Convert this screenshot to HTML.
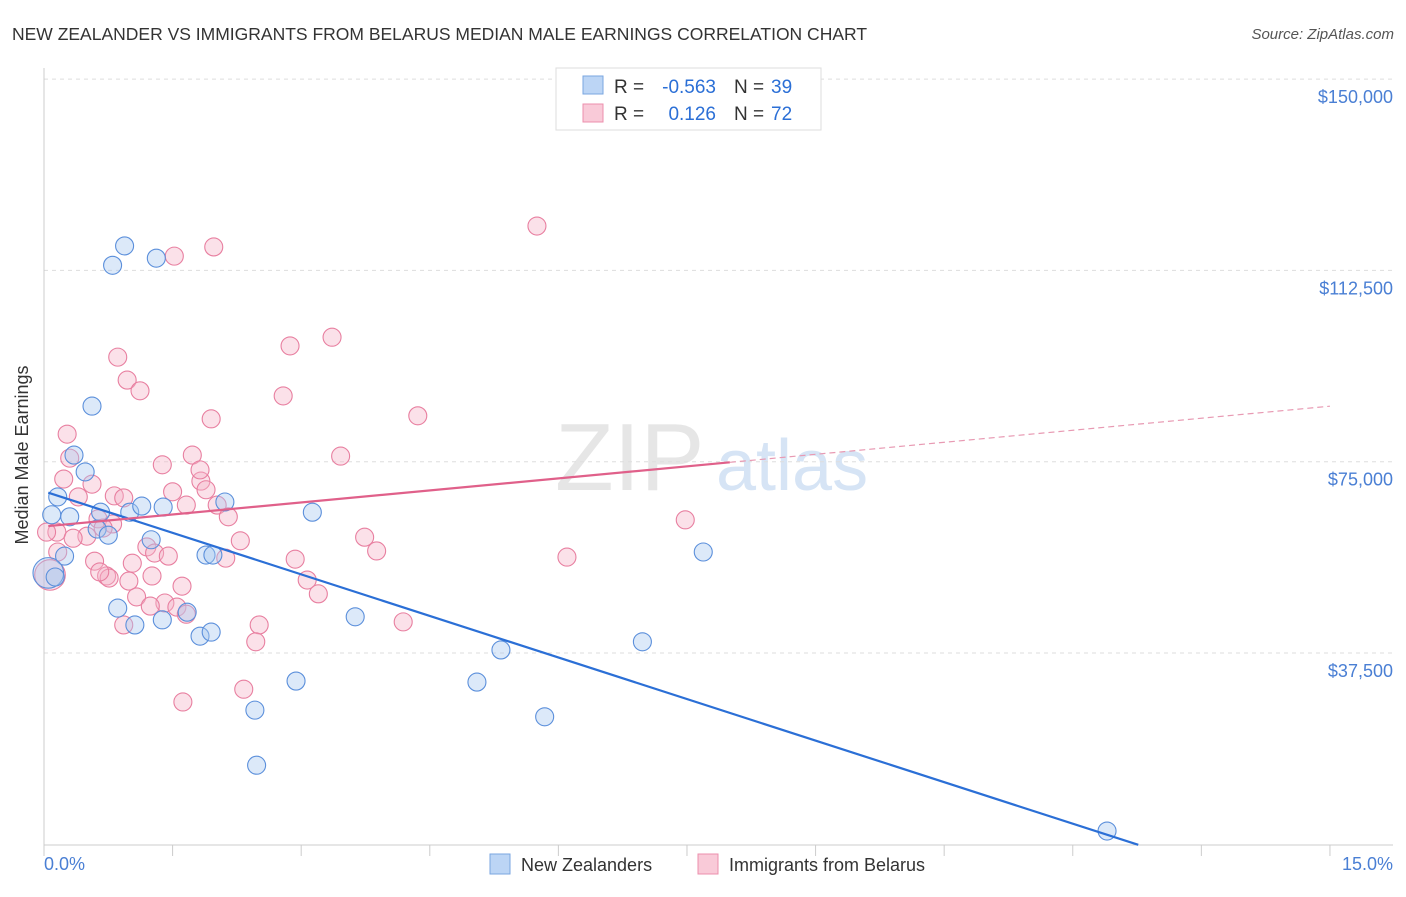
<!DOCTYPE html>
<html><head><meta charset="utf-8"><style>
body{margin:0;background:#fff;font-family:"Liberation Sans",sans-serif;}
svg text{font-family:"Liberation Sans",sans-serif;}
</style></head><body>
<svg width="1406" height="892" viewBox="0 0 1406 892">
<text x="12" y="40" font-size="17.5" fill="#333">NEW ZEALANDER VS IMMIGRANTS FROM BELARUS MEDIAN MALE EARNINGS CORRELATION CHART</text>
<text x="1394" y="39" font-size="15" fill="#555" text-anchor="end" font-style="italic">Source: ZipAtlas.com</text>
<g>
<text x="555" y="490" font-size="96" fill="#e6e6e6" font-family="Liberation Serif,serif">ZIP</text>
<text x="716" y="490" font-size="72" fill="#d6e4f5">atlas</text>
</g>
<g id="grid"></g>
<line x1="44" y1="68" x2="44" y2="845" stroke="#ccc"/>
<line x1="44" y1="845" x2="1393" y2="845" stroke="#ccc"/>
<g id="xt"></g>
<text x="28" y="455" font-size="18" fill="#333" text-anchor="middle" transform="rotate(-90 28 455)">Median Male Earnings</text>
<text x="44" y="870" font-size="18" fill="#4a7fd4">0.0%</text>
<text x="1393" y="870" font-size="18" fill="#4a7fd4" text-anchor="end">15.0%</text>
<g id="pts"></g>
<g id="lines"></g>
<g>
<rect x="556" y="68" width="265" height="62" fill="#fff" stroke="#ddd"/>
<rect x="583" y="76" width="20" height="18" fill="#bcd5f5" stroke="#7aa6e0"/>
<rect x="583" y="104" width="20" height="18" fill="#f9cad8" stroke="#ec8fac"/>
<text x="614" y="93" font-size="19" fill="#333">R =</text>
<text x="716" y="93" font-size="19" fill="#2b6fd6" text-anchor="end">-0.563</text>
<text x="734" y="93" font-size="19" fill="#333">N =</text>
<text x="771" y="93" font-size="19" fill="#2b6fd6">39</text>
<text x="614" y="120" font-size="19" fill="#333">R =</text>
<text x="716" y="120" font-size="19" fill="#2b6fd6" text-anchor="end">0.126</text>
<text x="734" y="120" font-size="19" fill="#333">N =</text>
<text x="771" y="120" font-size="19" fill="#2b6fd6">72</text>
</g>
<g>
<rect x="490" y="854" width="20" height="20" fill="#bcd5f5" stroke="#7aa6e0"/>
<text x="521" y="871" font-size="18" fill="#333">New Zealanders</text>
<rect x="698" y="854" width="20" height="20" fill="#f9cad8" stroke="#ec8fac"/>
<text x="729" y="871" font-size="18" fill="#333">Immigrants from Belarus</text>
</g>
</svg>
<script>
const yTicks=[37500,75000,112500,150000];
const yTickLabels=["$37,500","$75,000","$112,500","$150,000"];
const xTicks=[0,1.5,3,4.5,6,7.5,9,10.5,12,13.5,15];
const blueX=[0.94,0.80,1.31,0.56,0.35,0.48,0.16,0.30,0.66,1.00,1.14,1.39,2.11,3.13,0.62,0.75,0.24,1.25,1.89,1.97,0.86,1.06,1.38,1.67,1.82,1.95,3.63,5.33,6.98,7.69,2.94,5.05,2.46,5.84,2.48,12.40,0.05,0.09,0.13];
const blueY=[117300,113500,114900,85900,76300,73000,68100,64200,65100,65100,66300,66100,67100,65100,61800,60600,56500,59700,56700,56700,46300,43000,44000,45500,40800,41600,44600,38100,39700,57300,32000,31800,26300,25000,15500,2600,53200,64600,52400];
const blueSize=[1,1,1,1,1,1,1,1,1,1,1,1,1,1,1,1,1,1,1,1,1,1,1,1,1,1,1,1,1,1,1,1,1,1,1,1,1.7,1,1];
const pinkX=[5.75,1.98,1.52,3.36,2.87,0.86,0.97,1.12,2.79,4.36,1.95,0.27,3.46,1.73,1.38,0.30,0.23,1.83,1.50,0.56,0.40,0.82,0.93,1.66,1.89,2.02,2.15,7.48,0.63,0.80,0.69,0.15,0.03,0.50,0.34,2.29,3.74,3.88,1.20,1.29,1.45,2.12,2.93,6.10,0.59,1.03,0.73,0.76,0.99,1.26,3.07,1.61,3.20,1.08,1.41,1.24,1.55,1.66,4.19,0.93,2.51,2.47,2.33,1.62,0.16,0.07,0.65,1.82];
const pinkY=[121200,117100,115300,99400,97700,95500,91000,88900,87900,84000,83400,80400,76100,76300,74400,75700,71600,71200,69100,70600,68100,68300,67900,66500,69500,66500,64200,63600,63800,62800,62000,61200,61200,60400,60000,59500,60200,57500,58300,57100,56500,56100,55900,56300,55500,55100,52600,52200,51600,52600,51800,50600,49100,48500,47300,46700,46500,45100,43600,43000,43000,39700,30400,27900,57300,52800,53400,73400];
const pinkSize=pinkX.map((x,i)=>i===65?1.7:1);
const blueTrend=[69200,-5430];
const pinkTrend=[62300,1572];
const NS="http://www.w3.org/2000/svg";
const X=v=>44+v*85.73, Y=v=>844.3-v/196.03;
function mk(t,a,p){const e=document.createElementNS(NS,t);for(const k in a)e.setAttribute(k,a[k]);p.appendChild(e);return e;}
const grid=document.getElementById('grid');
yTicks.forEach((t,i)=>{
 const l=mk('line',{x1:44,x2:1393,y1:Y(t),y2:Y(t),stroke:'#ddd','stroke-dasharray':'4,4'},grid);
 
 
 const tx=mk('text',{x:1393,y:Y(t)+24,'font-size':18,fill:'#4a7fd4','text-anchor':'end'},grid);
 tx.textContent=yTickLabels[i];
 
 
});
const xt=document.getElementById('xt');
xTicks.forEach(t=>{
 const l=mk('line',{x1:X(t),x2:X(t),y1:845,y2:856,stroke:'#ccc'},xt);
 
 
});
const pts=document.getElementById('pts');
function dots(xs,ys,sz,fill,stroke,name){
 xs.forEach((x,i)=>{
  const c=mk('circle',{cx:X(x),cy:Y(ys[i]),r:9*sz[i],fill:fill,'fill-opacity':0.4,stroke:stroke,'stroke-width':1.1},pts);
  
  
 });
}
dots(pinkX,pinkY,pinkSize,'#f5b3c8','#e87fa0','point-belarus');
dots(blueX,blueY,blueSize,'#a8c8f0','#5b8fdb','point-new-zealander');
const lines=document.getElementById('lines');
const xEndBlue=-blueTrend[0]/blueTrend[1];
let l1=mk('line',{x1:X(0.05),y1:Y(blueTrend[0]+blueTrend[1]*0.05),x2:X(xEndBlue+0.02),y2:Y(blueTrend[0]+blueTrend[1]*(xEndBlue+0.02)),stroke:'#2b6fd6','stroke-width':2.2},lines);


let l2=mk('line',{x1:X(0.05),y1:Y(pinkTrend[0]+pinkTrend[1]*0.05),x2:X(8),y2:Y(pinkTrend[0]+pinkTrend[1]*8),stroke:'#e0608a','stroke-width':2.2},lines);


let l3=mk('line',{x1:X(8),y1:Y(pinkTrend[0]+pinkTrend[1]*8),x2:X(15),y2:Y(pinkTrend[0]+pinkTrend[1]*15),stroke:'#e89ab3','stroke-width':1.2,'stroke-dasharray':'6,4'},lines);


</script>
</body></html>
